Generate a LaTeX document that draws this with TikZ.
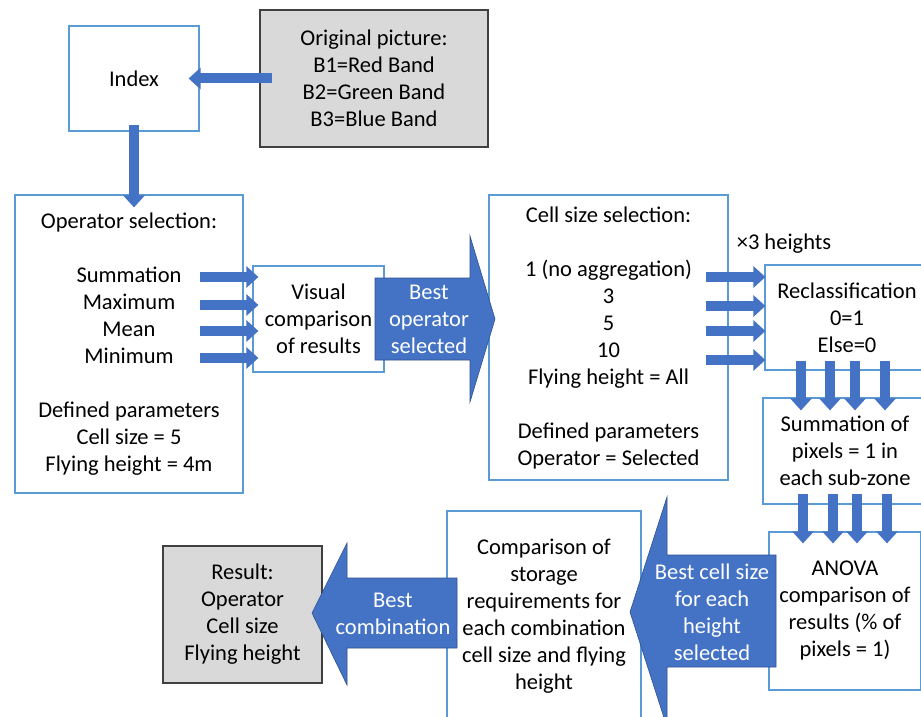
\documentclass[tikz,border=0pt]{standalone}
\usepackage{fontspec}
\setmainfont{Carlito}
\usetikzlibrary{shapes.geometric, arrows.meta}
\definecolor{boxblue}{HTML}{5B9BD5}
\definecolor{arrowblue}{HTML}{4472C4}
\definecolor{arrowedge}{HTML}{2F528F}
\definecolor{greyfill}{HTML}{D9D9D9}

\begin{document}
\begin{tikzpicture}[x=1pt, y=-1pt,
                every node/.style={font=\fontsize{22.5}{27}\selectfont, align=center, inner sep=0pt}, % Text of all boxes
                bluebox/.style={draw=boxblue, line width=1.2pt, fill=white}, % Steps
                greybox/.style={draw=black!75, line width=1.2pt, fill=greyfill}, % Input and result
                thinarrow/.style={draw=arrowblue, line width=10pt, -{Triangle[width=21pt, length=12pt]}}, % Small block arrows
                bigarrow/.style={fill=arrowblue, draw=arrowedge, line width=0.6pt}, % Large labelled arrows
                arrowtext/.style={text=white}
                ]
                \clip (0,0) rectangle (921,717);
                \path[fill=white] (0,0) rectangle (921,717);

                % boxes
                \node[bluebox, minimum width=130, minimum height=105] (index) at (134,78.5) {Index};
                \node[greybox, minimum width=228, minimum height=137] (orig) at (374,78.5)
                   {Original picture:\\B1=Red Band\\B2=Green Band\\B3=Blue Band};
                \node[bluebox, minimum width=228, minimum height=298] (opsel) at (129,344)
                   {Operator selection:\\[27pt]Summation\\Maximum\\Mean\\Minimum\\[27pt]Defined parameters\\Cell size = 5\\Flying height = 4m};
                \node[bluebox, minimum width=131, minimum height=106] (visual) at (318.5,319)
                   {Visual\\comparison\\of results};
                \node[bluebox, minimum width=239, minimum height=285] (cellsel) at (608.5,337.5)
                   {Cell size selection:\\[27pt]1 (no aggregation)\\3\\5\\10\\Flying height = All\\[27pt]Defined parameters\\Operator = Selected};
                \node (heights) at (784,244) {×3 heights};
                \node[bluebox, minimum width=164, minimum height=105] (reclass) at (847,317.5)
                   {Reclassification\\0=1\\Else=0};
                \node[bluebox, minimum width=164, minimum height=106] (summ) at (845,451)
                   {Summation of\\pixels = 1 in\\each sub-zone};
                \node[bluebox, minimum width=152, minimum height=158] (anova) at (845,611)
                   {ANOVA\\comparison of\\results (\% of\\pixels = 1)};
                \node[bluebox, minimum width=194, minimum height=210] (storage) at (544,616)
                   {Comparison of\\storage\\requirements for\\each combination\\cell size and flying\\height};
                \node[greybox, minimum width=159, minimum height=137] (result) at (242.5,614.5)
                   {Result:\\Operator\\Cell size\\Flying height};

                % small arrows
                \draw[thinarrow, shorten <=-13pt, shorten >=-11pt] (orig.west) -- (index.east);
                \draw[thinarrow, shorten <=-7pt, shorten >=-13pt] (index.south) -- (index.south |- opsel.north);
                \foreach \y in {277,305,331,358}
                   \draw[thinarrow, shorten <=-44pt, shorten >=-6pt] (opsel.east |- 0,\y) -- (visual.west |- 0,\y);
                \foreach \y in {277,306,331,360}
                   \draw[thinarrow, shorten <=-23pt, shorten >=-1pt] (cellsel.east |- 0,\y) -- (reclass.west |- 0,\y);
                \foreach \x in {801,830,855,885}
                   \draw[thinarrow, shorten <=-10pt, shorten >=-13pt] (\x,0 |- reclass.south) -- (\x,0 |- summ.north);
                \foreach \x in {803,833,857,887}
                   \draw[thinarrow, shorten <=-11pt, shorten >=-12pt] (\x,0 |- summ.south) -- (\x,0 |- anova.north);

                % big arrows
                \draw[bigarrow] (375,278) -- (470,278) -- (470,236) -- (495,319) -- (470,402) -- (470,360) -- (375,360) -- cycle;
                \node[arrowtext] (bestop) at (429,319) {Best\\operator\\selected};
                \draw[bigarrow] (776,555) -- (667,555) -- (667,497) -- (630,612) -- (667,727) -- (667,667) -- (776,667) -- cycle;
                \node[arrowtext] (bestcell) at (712,612) {Best cell size\\for each\\height\\selected};
                \draw[bigarrow] (457,578) -- (347,578) -- (347,543) -- (312,613) -- (347,685) -- (347,648) -- (457,648) -- cycle;
                \node[arrowtext] (bestcomb) at (393,614) {Best\\combination};
            \end{tikzpicture}
\end{document}
